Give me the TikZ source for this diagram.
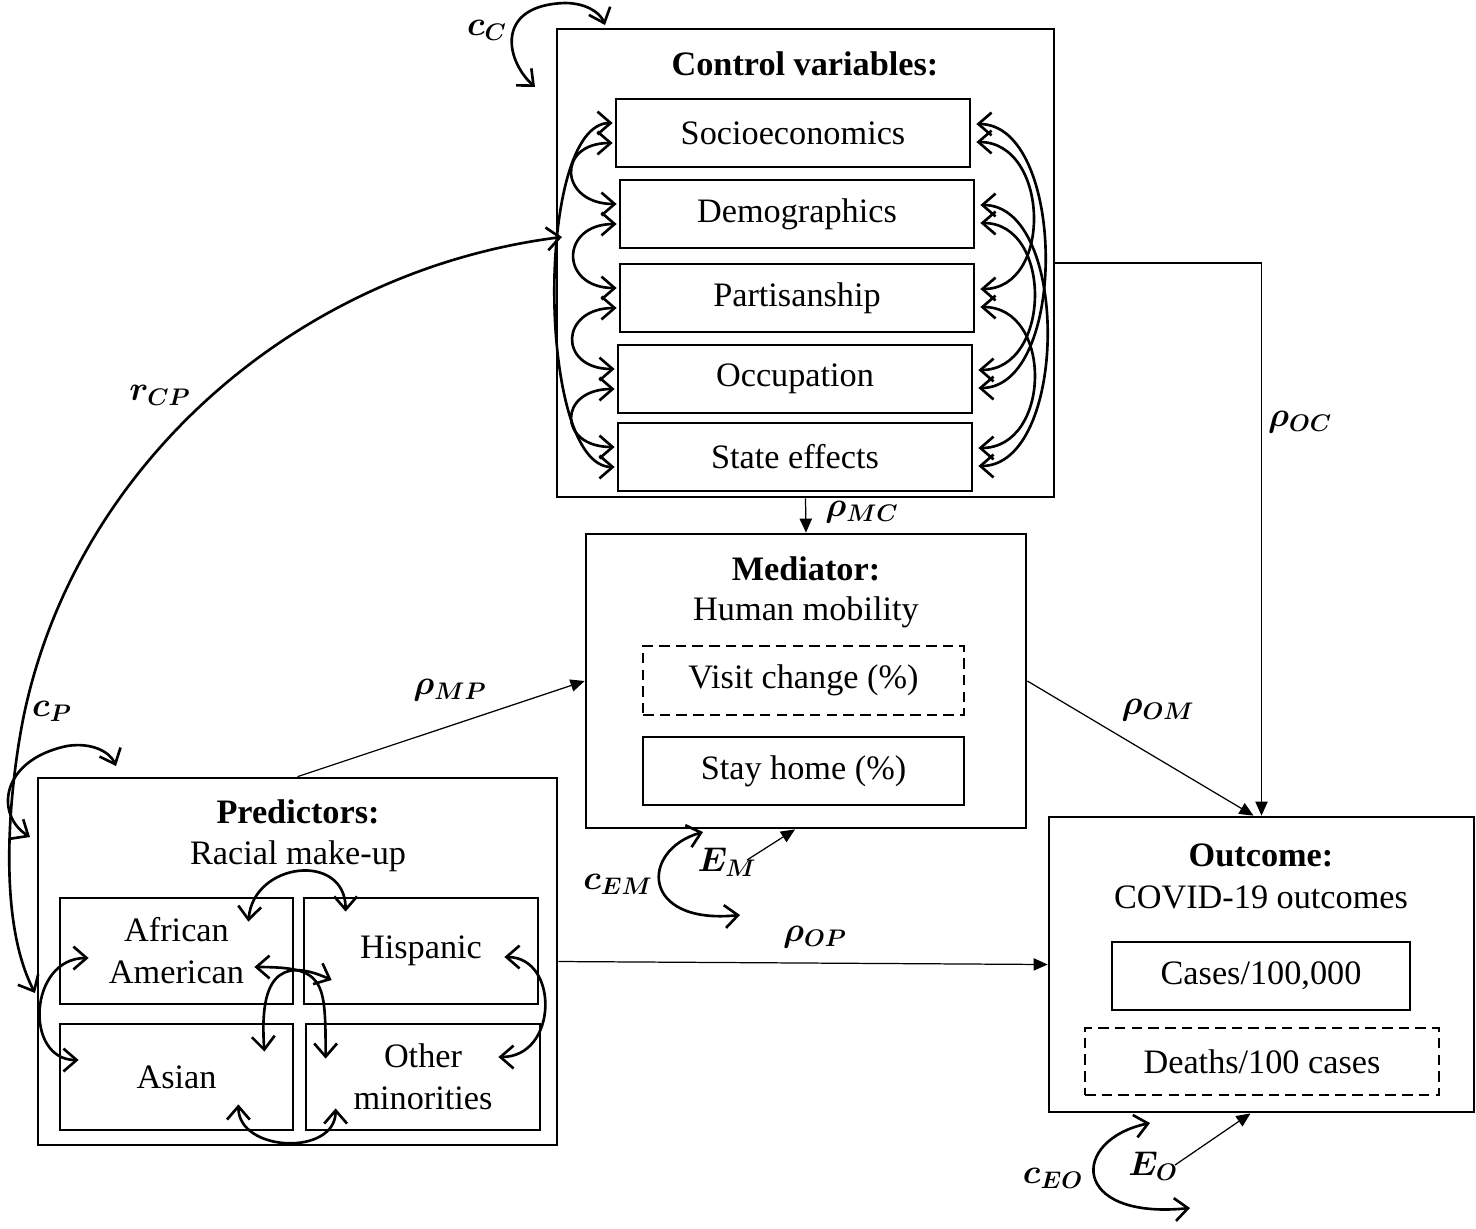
\RequirePackage{fix-cm}
\documentclass[tikz,border=0pt]{standalone}
\usepackage{fontspec}
\setmainfont{Liberation Serif}
\usepackage{amsmath}
\usepackage{amssymb}
\usepackage{tikz}
\usetikzlibrary{arrows.meta,calc,positioning}

\begin{document}
\begin{tikzpicture}[x=0.02cm, y=-0.02cm,
  every node/.style={font=\fontsize{19.5}{24}\selectfont},
  box/.style={rectangle, draw, line width=1.6pt, align=center},
  dashbox/.style={box, dash pattern=on 6pt off 3.5pt},
  effect/.style={-{Triangle[length=8pt,width=7pt]}, line width=0.7pt},
  cov/.style={{Straight Barb[length=7.5pt,width=13pt]}-{Straight Barb[length=7.5pt,width=13pt]}, line width=1.5pt}]

\useasboundingbox (0,0) rectangle (1476,1228);

% Control variables

\node[box, minimum width=9.94cm, minimum height=9.36cm] (Control) at (805.5,263) {};
\node (ControlTitle) at (805,64) {\textbf{Control variables:}};

\node[box, minimum width=7.08cm, minimum height=1.36cm] (Socio)    at (793,133) {Socioeconomics};
\node[box, minimum width=7.08cm, minimum height=1.36cm] (Demo)     at (797,214) {Demographics};
\node[box, minimum width=7.08cm, minimum height=1.36cm] (Partisan) at (797,298) {Partisanship};
\node[box, minimum width=7.08cm, minimum height=1.36cm] (Occup)    at (795,379) {Occupation};
\node[box, minimum width=7.08cm, minimum height=1.36cm] (State)    at (795,457) {State effects};

% Mediator

\node[box, minimum width=8.8cm, minimum height=5.88cm] (Mediator) at (806,681) {};
\node (MediatorTitle) at (806,569) {\textbf{Mediator:}};
\node (MediatorName)  at (806,612) {Human mobility};

\node[dashbox, minimum width=6.42cm, minimum height=1.38cm] (Visit)    at (803.5,680.5) {Visit change (\%)};
\node[box,     minimum width=6.42cm, minimum height=1.36cm] (StayHome) at (803.5,771) {Stay home (\%)};

% Predictors

\node[box, minimum width=10.38cm, minimum height=7.34cm] (Predictors) at (297.5,961.5) {};
\node (PredictorsTitle) at (298,812) {\textbf{Predictors:}};
\node (PredictorsName)  at (298,856) {Racial make-up};

\node[box, minimum width=4.66cm, minimum height=2.12cm] (AfAm)     at (176.5,951) {African\\American};
\node[box, minimum width=4.68cm, minimum height=2.12cm] (Hispanic) at (421,951)   {Hispanic};
\node[box, minimum width=4.66cm, minimum height=2.12cm] (Asian)    at (176.5,1077) {Asian};
\node[box, minimum width=4.68cm, minimum height=2.12cm] (OtherMin) at (423,1077)  {Other\\minorities};

% Outcome

\node[box, minimum width=8.5cm, minimum height=5.9cm] (Outcome) at (1261.5,964.5) {};
\node (OutcomeTitle) at (1261,855) {\textbf{Outcome:}};
\node (OutcomeName)  at (1261,897) {COVID-19 outcomes};

\node[box,     minimum width=5.96cm, minimum height=1.36cm] (Cases)  at (1261,976)    {Cases/100,000};
\node[dashbox, minimum width=7.08cm, minimum height=1.34cm] (Deaths) at (1262,1061.5) {Deaths/100 cases};

% Paths

\draw[effect] (Control.south) -- (Mediator.north);
\draw[effect] (Control.east) -| (Outcome.north);
\draw[effect] (Predictors.north) -- (Mediator.west);
\draw[effect] (Mediator.east) -- ($(Outcome.north)+(-8,0)$);
\draw[effect] (Predictors.east) -- (Outcome.west);

\coordinate (EMstart) at (747,860);
\coordinate (EOstart) at (1175,1165);
\draw[effect] (EMstart) -- ($(Mediator.south)+(-11,0)$);
\draw[effect] (EOstart) -- ($(Outcome.south)+(-11,0)$);

% Labels

\node (labelRhoMC) at (862,512)  {$\boldsymbol{\rho_{MC}}$};
\node (labelRhoOC) at (1300,422) {$\boldsymbol{\rho_{OC}}$};
\node (labelRhoMP) at (450,690)  {$\boldsymbol{\rho_{MP}}$};
\node (labelRhoOM) at (1158,710) {$\boldsymbol{\rho_{OM}}$};
\node (labelRhoOP) at (815,937)  {$\boldsymbol{\rho_{OP}}$};
\node (labelEM)    at (727,862)  {$\boldsymbol{E_M}$};
\node (labelEO)    at (1153,1166) {$\boldsymbol{E_O}$};
\node (labelcEM)   at (618,884)  {$\boldsymbol{c_{EM}}$};
\node (labelcEO)   at (1053,1178) {$\boldsymbol{c_{EO}}$};
\node (labelcC)    at (487,30)   {$\boldsymbol{c_C}$};
\node (labelcP)    at (52,711)   {$\boldsymbol{c_P}$};
\node (labelrCP)   at (160,395)  {$\boldsymbol{r_{CP}}$};

% Variances and covariances

\coordinate (cEMtop)    at (703,832);
\coordinate (cEMbottom) at (740,915);
\draw[cov] (cEMbottom) .. controls (640,925) and (640,850) .. (cEMtop);

\coordinate (cEOtop)    at (1150,1123);
\coordinate (cEObottom) at (1190,1208);
\draw[cov] (cEObottom) .. controls (1070,1220) and (1070,1140) .. (cEOtop);

\coordinate (cCstart) at (535,87);
\coordinate (cCend)   at (605,25);
\draw[cov] (cCstart) .. controls (505,60) and (495,5) .. (565,3) .. controls (585,3) and (600,12) .. (cCend);

\coordinate (cPstart) at (30,837);
\coordinate (cPend)   at (116,766);
\draw[cov] (cPstart) .. controls (-5,815) and (0,760) .. (67,746) .. controls (92,742) and (110,752) .. (cPend);

\coordinate (rCPstart) at (562,237);
\coordinate (rCPend)   at (35,993);
\draw[cov] (rCPstart) .. controls (300,270) and (80,460) .. (25,710) .. controls (14,760) and (-8,910) .. (rCPend);

% Control rows, left side

\draw[cov] ($(Socio.west)+(-2,10)$)    .. controls +(-57,0) and +(-57,0) .. ($(Demo.west)+(-2,-10)$);
\draw[cov] ($(Demo.west)+(-2,10)$)     .. controls +(-57,0) and +(-57,0) .. ($(Partisan.west)+(-2,-10)$);
\draw[cov] ($(Partisan.west)+(-2,10)$) .. controls +(-57,0) and +(-57,0) .. ($(Occup.west)+(-2,-10)$);
\draw[cov] ($(Occup.west)+(-2,10)$)    .. controls +(-57,0) and +(-57,0) .. ($(State.west)+(-2,-10)$);
\draw[cov] ($(Socio.west)+(-2,-10)$)   .. controls +(-78,0) and +(-78,0) .. ($(State.west)+(-2,10)$);

% Control rows, right side

\draw[cov] ($(Socio.east)+(5,9)$)     .. controls +(73,0) and +(73,0) .. ($(Partisan.east)+(5,-9)$);
\draw[cov] ($(Socio.east)+(5,-9)$)    .. controls +(90,0) and +(90,0) .. ($(Occup.east)+(5,9)$);
\draw[cov] ($(Demo.east)+(5,9)$)      .. controls +(73,0) and +(73,0) .. ($(Occup.east)+(5,-9)$);
\draw[cov] ($(Demo.east)+(5,-9)$)     .. controls +(90,0) and +(90,0) .. ($(State.east)+(5,9)$);
\draw[cov] ($(Partisan.east)+(5,9)$)  .. controls +(73,0) and +(73,0) .. ($(State.east)+(5,-9)$);

% Racial groups

\draw[cov] ($(AfAm.north east)+(-46,25)$) .. controls +(5,-60) and +(0,-60) .. ($(Hispanic.north west)+(43,15)$);
\draw[cov] ($(AfAm.west)+(30,7)$) .. controls +(-60,0) and +(-55,0) .. ($(Asian.west)+(20,-17)$);
\draw[cov] ($(Hispanic.east)+(-35,6)$) .. controls +(55,0) and +(60,0) .. ($(OtherMin.east)+(-43,-20)$);
\draw[cov] ($(Asian.south east)+(-56,-27)$) .. controls +(0,48) and +(0,48) .. ($(OtherMin.south west)+(31,-23)$);
\draw[cov] ($(AfAm.east)+(-40,16)$) .. controls +(70,0) and +(0,-80) .. ($(OtherMin.north west)+(21,36)$);
\draw[cov] ($(Hispanic.west)+(29,29)$) .. controls +(-55,-25) and +(-5,-70) .. ($(Asian.north east)+(-30,29)$);

\end{tikzpicture}
\end{document}
